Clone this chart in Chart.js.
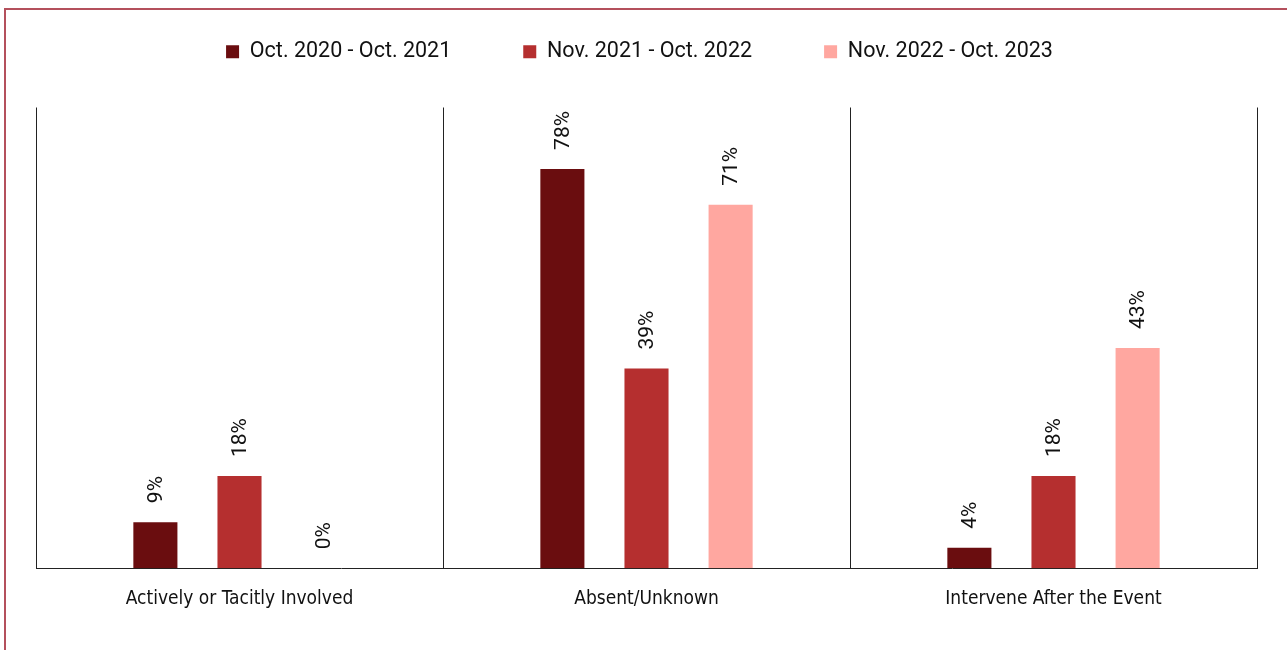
<!DOCTYPE html>
<html>
<head>
<meta charset="utf-8">
<script src="https://cdn.jsdelivr.net/npm/chart.js@4.4.1/dist/chart.umd.min.js"></script>
<style>
  body { margin: 0; background: #fff; overflow: hidden; }
  #wrap {
    position: absolute; left: 4px; top: 8px;
    width: 1300px; height: 660px;
    border-top: 2px solid #b4505c; border-left: 2px solid #b4505c;
  }
  #box { position: absolute; left: 0; top: 0; width: 1281px; height: 640px; }
</style>
</head>
<body>
<div id="wrap"><div id="box"><canvas id="chart"></canvas></div></div>
<script>
const categories = ['Actively or Tacitly Involved', 'Absent/Unknown', 'Intervene After the Event'];
const periods = ['Oct. 2020 - Oct. 2021', 'Nov. 2021 - Oct. 2022', 'Nov. 2022 - Oct. 2023'];
const period1 = [9, 78, 4];
const period2 = [18, 39, 18];
const period3 = [0, 71, 43];
const colors = ['#6a0d0f', '#b52f2f', '#ffa7a0'];

// rotated value labels above each bar
const barLabels = {
  id: 'barLabels',
  afterDatasetsDraw(chart) {
    const ctx = chart.ctx;
    ctx.save();
    ctx.font = '21px Roboto, "Noto Sans", sans-serif';
    ctx.fillStyle = '#111';
    ctx.textAlign = 'left';
    ctx.textBaseline = 'middle';
    chart.data.datasets.forEach((ds, i) => {
      chart.getDatasetMeta(i).data.forEach((bar, j) => {
        ctx.save();
        ctx.translate(bar.x + 1, bar.y - 19);
        ctx.rotate(-Math.PI / 2);
        ctx.fillText(ds.data[j] + '%', 0, 0);
        ctx.restore();
      });
    });
    ctx.restore();
  }
};

// extra room under the legend, legend nudged a little left
const legendGap = {
  id: 'legendGap',
  beforeInit(chart) {
    const fit = chart.legend.fit;
    chart.legend.fit = function () {
      fit.bind(chart.legend)();
      this.height += 35;
    };
  },
  afterLayout(chart) {
    chart.legend.left -= 7;
    chart.legend.right -= 7;
  }
};

const datasets = [period1, period2, period3].map((d, i) => ({
  label: periods[i],
  data: d,
  backgroundColor: colors[i],
  borderWidth: 0,
  categoryPercentage: 0.62,
  barPercentage: 0.524
}));

new Chart(document.getElementById('chart'), {
  type: 'bar',
  data: { labels: categories, datasets: datasets },
  plugins: [legendGap, barLabels],
  options: {
    responsive: true,
    maintainAspectRatio: false,
    animation: false,
    layout: { padding: { left: 30, right: 30, top: -41, bottom: 21 } },
    plugins: {
      tooltip: { enabled: false },
      legend: {
        position: 'top',
        labels: {
          boxWidth: 13,
          boxHeight: 13,
          padding: 72,
          color: '#111',
          font: { size: 21.5, family: 'Roboto, "Noto Sans", sans-serif' }
        }
      }
    },
    scales: {
      x: {
        grid: { display: true, offset: true, color: '#222', lineWidth: 1, drawTicks: false },
        border: { display: true, color: '#222', width: 1 },
        ticks: {
          color: '#111',
          padding: 19,
          font: { size: 19, family: '"DejaVu Sans Condensed", "Roboto", sans-serif' }
        }
      },
      y: {
        display: false,
        min: 0,
        max: 90
      }
    }
  }
});
</script>
</body>
</html>
